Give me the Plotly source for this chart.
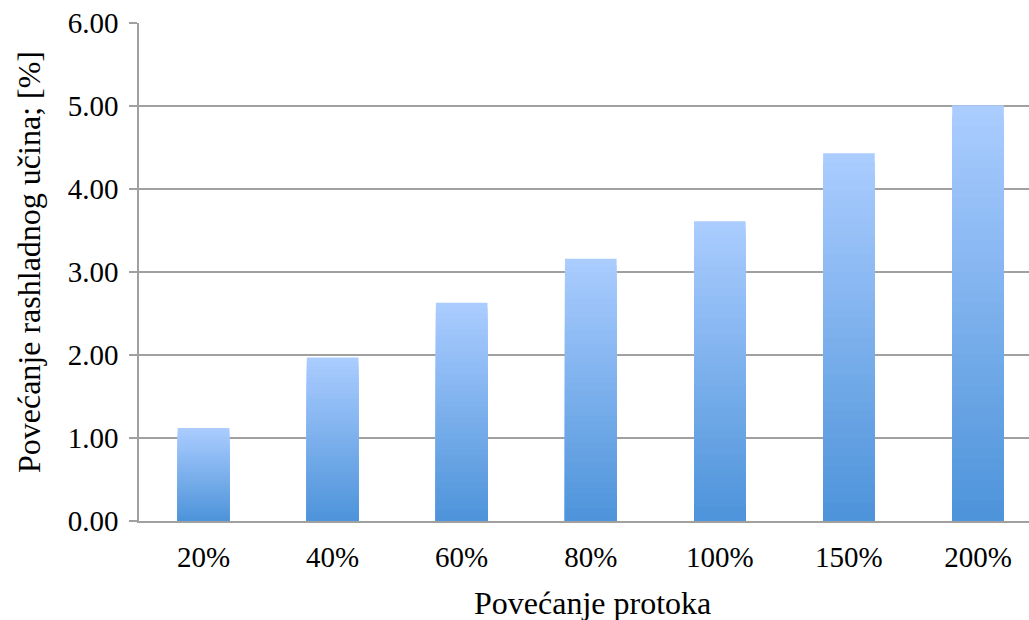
import plotly.graph_objects as go

categories = ["20%", "40%", "60%", "80%", "100%", "150%", "200%"]
values = [1.12, 1.97, 2.63, 3.16, 3.61, 4.43, 5.01]
y_ticks = [0, 1, 2, 3, 4, 5, 6]
y_tick_labels = ["0.00", "1.00", "2.00", "3.00", "4.00", "5.00", "6.00"]
x_title = "Povećanje protoka"
y_title = "Povećanje rashladnog učina; [%]"

top_rgb = (170, 204, 255)
bottom_rgb = (78, 148, 218)
n_steps = 40

fig = go.Figure()
# gradient effect: overlay progressively shorter, darker bars
for k in range(n_steps):
    frac = 1 - k / n_steps
    t = k / (n_steps - 1)
    c = tuple(round(top_rgb[i] + (bottom_rgb[i] - top_rgb[i]) * t) for i in range(3))
    fig.add_trace(go.Bar(
        x=categories,
        y=[v * frac for v in values],
        marker=dict(color="rgb(%d,%d,%d)" % c, line=dict(width=0)),
        showlegend=False,
        hoverinfo="skip" if k else None,
    ))

font = "Liberation Serif, Times New Roman, serif"
fig.update_layout(
    width=1029, height=620,
    barmode="overlay",
    bargap=0.6,
    plot_bgcolor="white", paper_bgcolor="white",
    margin=dict(l=139, r=0, t=23, b=99),
    font=dict(family=font, size=29, color="black"),
    showlegend=False,
    annotations=[
        dict(text=x_title, xref="paper", yref="paper", x=0.509, y=-0.1647,
             xanchor="center", yanchor="middle", showarrow=False,
             font=dict(size=32)),
        dict(text=y_title, xref="paper", yref="paper", x=-0.1236, y=0.52,
             xanchor="center", yanchor="middle", showarrow=False, textangle=-90,
             font=dict(size=32)),
    ],
)
fig.update_xaxes(
    range=[-0.5, 6.395],
    showgrid=False, showline=True, linecolor="#a0a0a0", linewidth=1.5,
    ticks="", tickfont=dict(size=29), ticklabelstandoff=9,
)
fig.update_yaxes(
    range=[0, 6], tickvals=y_ticks, ticktext=y_tick_labels,
    showgrid=True, gridcolor="#a0a0a0", gridwidth=1.5,
    showline=True, linecolor="#a0a0a0", linewidth=1.5,
    ticks="outside", ticklen=8, tickcolor="#a0a0a0", tickwidth=1.5,
    tickfont=dict(size=29), zeroline=False, ticklabelstandoff=5,
)
fig.write_html("out.html", config={"displayModeBar": False},
               post_script="document.body.style.margin='0';")
